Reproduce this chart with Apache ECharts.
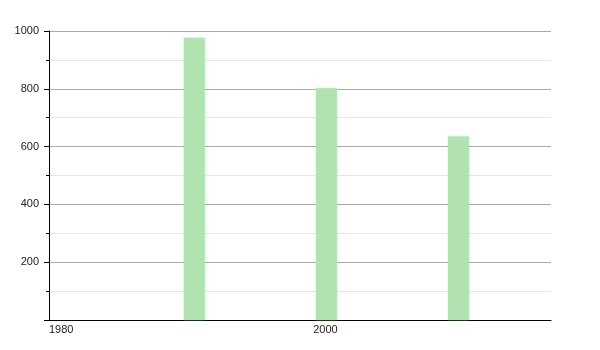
<!DOCTYPE html>
<html>
<head>
<meta charset="utf-8">
<script src="https://cdn.jsdelivr.net/npm/echarts@6/dist/echarts.min.js"></script>
<style>html,body{margin:0;padding:0;background:#fff}#c{width:600px;height:350px}</style>
</head>
<body>
<div id="c"></div>
<script>
var years = [1991, 2001, 2011];
var values = [977, 802, 635];
var yTicks = [200, 400, 600, 800, 1000];
var xTicks = [1980, 2000];

var chart = echarts.init(document.getElementById('c'), null, {renderer: 'canvas'});
chart.setOption({
  animation: false,
  backgroundColor: '#ffffff',
  grid: {left: 49, right: 49, top: 31, bottom: 30, containLabel: false},
  xAxis: {
    type: 'value', min: 1980, max: 2018, interval: 20,
    axisLine: {show: true, onZero: false, lineStyle: {color: '#000', width: 1}},
    axisTick: {show: false},
    splitLine: {show: false},
    axisLabel: {
      show: true, align: 'left', margin: 4, color: '#222',
      fontFamily: 'Liberation Sans', fontSize: 11,
      showMaxLabel: false,
      formatter: function (v) { return xTicks.indexOf(v) >= 0 ? String(v) : ''; }
    }
  },
  yAxis: {
    type: 'value', min: 0, max: 1000, interval: 200,
    axisLine: {show: true, lineStyle: {color: '#000', width: 1}},
    axisTick: {show: true, length: 5, lineStyle: {color: '#000'}},
    minorTick: {show: true, splitNumber: 2, length: 3, lineStyle: {color: '#000'}},
    splitLine: {show: true, lineStyle: {color: '#aaaaaa', width: 1}},
    minorSplitLine: {show: true, lineStyle: {color: '#e6e6e6', width: 1}},
    axisLabel: {
      margin: 10, color: '#222', fontFamily: 'Liberation Sans', fontSize: 11,
      formatter: function (v) { return yTicks.indexOf(v) >= 0 ? String(v) : ''; }
    }
  },
  series: [{
    type: 'bar',
    data: years.map(function (y, i) { return [y, values[i]]; }),
    barWidth: 21,
    itemStyle: {color: '#b1e3b1', shadowColor: 'rgba(177,227,177,0.6)', shadowBlur: 2}
  }]
});
</script>
</body>
</html>
